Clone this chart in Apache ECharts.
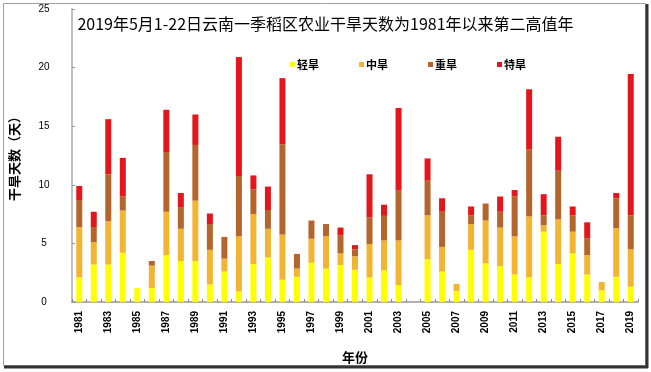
<!DOCTYPE html>
<html>
<head>
<meta charset="utf-8">
<script src="https://cdn.jsdelivr.net/npm/echarts@6/dist/echarts.min.js"></script>
<style>
html,body{margin:0;padding:0;background:#fff;}
#main{width:651px;height:372px;}
</style>
</head>
<body>
<div id="main"></div>
<script>
const years = ["1981","1982","1983","1984","1985","1986","1987","1988","1989","1990","1991","1992","1993","1994","1995","1996","1997","1998","1999","2000","2001","2002","2003","2004","2005","2006","2007","2008","2009","2010","2011","2012","2013","2014","2015","2016","2017","2018","2019"];
const seriesNames = ["轻旱","中旱","重旱","特旱"];
const light  = [2.1,3.2,3.2,4.2,1.2,1.2,4.0,3.5,3.5,1.5,2.6,0.9,3.25,3.8,1.9,2.15,3.35,2.85,3.15,2.75,2.1,2.7,1.45,0,3.65,2.6,0.95,4.45,3.3,3.05,2.35,2.1,6.0,3.25,4.15,2.35,1.0,2.15,1.3];
const medium = [4.3,1.9,3.7,3.6,0,1.9,3.7,2.75,5.15,2.95,1.1,4.7,4.25,2.45,3.85,0.7,2.05,2.75,1.0,1.15,2.85,2.55,3.8,0,3.75,2.1,0.6,2.2,3.65,3.3,3.25,5.2,0.55,3.8,1.85,1.65,0.7,4.15,3.2];
const heavy  = [2.3,1.3,4.0,1.2,0,0.4,5.1,1.85,4.75,2.2,1.85,5.15,2.1,1.6,7.7,1.25,1.55,1.05,1.55,0.6,2.25,2.1,4.25,0,2.95,3.0,0,0.75,1.45,1.35,3.4,5.7,0.85,4.15,1.4,1.45,0,2.55,2.9];
const extreme= [1.2,1.3,4.7,3.3,0,0,3.6,1.2,2.6,0.9,0,10.15,1.2,2.0,5.65,0,0,0,0.65,0.35,3.7,0.95,7.05,0,1.9,1.15,0,0.75,0,1.3,0.55,5.15,1.8,2.9,0.75,1.35,0,0.45,12.05];
const yTicks = [0,5,10,15,20,25];
const colors = ["#FFFF00","#F2B431","#B5652B","#E3161C"];

const chart = echarts.init(document.getElementById('main'), null, {renderer:'canvas'});
const dataSets = [light, medium, heavy, extreme];
const cjk = '"Noto Sans CJK SC", sans-serif';
chart.setOption({
  animation:false,
  backgroundColor:'#fff',
  title:{
    text:'2019年5月1-22日云南一季稻区农业干旱天数为1981年以来第二高值年',
    left:'center', top:11,
    textStyle:{fontFamily:cjk, fontSize:16, fontWeight:'normal', color:'#000'}
  },
  legend:{
    data:seriesNames,
    left:285, top:54,
    itemWidth:5, itemHeight:5, itemGap:40,
    icon:'rect',
    textStyle:{fontFamily:cjk, fontSize:11, fontWeight:'bold', color:'#000', padding:[0,0,0,-3]}
  },
  grid:{left:68, right:13, top:9, bottom:70, containLabel:false},
  xAxis:{
    type:'category',
    data:years,
    name:'年份',
    nameLocation:'middle',
    nameGap:49,
    nameTextStyle:{fontFamily:cjk, fontSize:13, fontWeight:'bold', color:'#000'},
    axisLine:{lineStyle:{color:'#b0b0b0', width:2}},
    axisTick:{show:true, inside:true, length:3, interval:0, lineStyle:{color:'#888'}},
    axisLabel:{interval:1, rotate:90, margin:9, fontFamily:'"Liberation Sans", Arial, sans-serif', fontSize:10, fontWeight:'bold', color:'#000'}
  },
  yAxis:{
    type:'value',
    min:0, max:25, interval:5,
    name:'干旱天数（天）',
    nameLocation:'middle',
    nameGap:51,
    nameRotate:90,
    nameTextStyle:{fontFamily:cjk, fontSize:13, fontWeight:'bold', color:'#000'},
    splitLine:{show:false},
    axisLine:{show:true, lineStyle:{color:'#c0c0c0', width:2}},
    axisTick:{show:true, inside:true, length:3, lineStyle:{color:'#999'}},
    axisLabel:{margin:28, align:'center', fontFamily:'"Liberation Sans", Arial, sans-serif', fontSize:10, color:'#000',
      formatter:function(v){return yTicks.indexOf(v)>=0 ? String(v) : '';}}
  },
  series: seriesNames.map(function(n,i){
    return {name:n, type:'bar', stack:'total', data:dataSets[i], barWidth:6, itemStyle:{color:colors[i]}};
  }),
  graphic:[
    {type:'rect', shape:{x:3.5, y:3.5, width:642, height:362}, style:{fill:'none', stroke:'#a0a0a0', lineWidth:1}, silent:true},
    {type:'line', shape:{x1:4, y1:367, x2:648, y2:367}, style:{stroke:'#333', lineWidth:3}, silent:true},
    {type:'line', shape:{x1:647, y1:4, x2:647, y2:368}, style:{stroke:'#333', lineWidth:3}, silent:true}
  ]
});
</script>
</body>
</html>
